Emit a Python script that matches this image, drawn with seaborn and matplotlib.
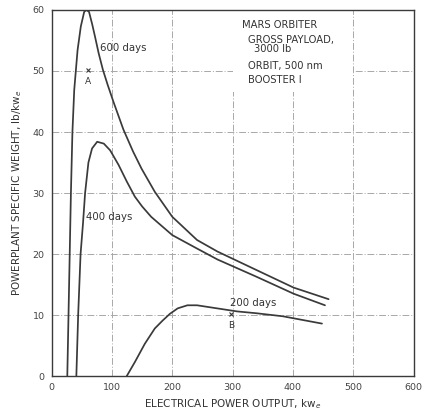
import matplotlib
matplotlib.use("Agg")
import matplotlib.pyplot as plt
from matplotlib.patches import Rectangle
import seaborn as sns
import pandas as pd

# curves (kw_e, lb/kw_e)
x_600 = [26, 28, 30, 32, 34.5, 37.5, 43, 48.4, 54, 57.6, 62, 67.4, 72, 78, 85, 93,
         103, 119, 135, 149, 171, 200, 241, 275, 339, 401, 459]
y_600 = [0, 10, 20, 30, 40, 46.9, 53.4, 57.3, 59.7, 60, 59.7, 57.6, 55.6, 52.9, 50.2,
         47.7, 44.8, 40.4, 36.8, 34.0, 30.2, 26.1, 22.3, 20.4, 17.4, 14.5, 12.6]

x_400 = [41, 44, 48, 52, 55.5, 61, 67, 75.5, 86.5, 97, 111, 124.5, 138, 150, 165, 200,
         241, 275, 339, 401, 453]
y_400 = [0, 10, 20, 25, 30, 35, 37.3, 38.4, 38.1, 37, 34.6, 31.9, 29.4, 27.8, 26.1, 23.1,
         20.9, 19.1, 16.3, 13.5, 11.6]

x_200 = [124.5, 138, 154.5, 171, 184, 196, 209, 225, 241, 274, 307, 339, 383, 448]
y_200 = [0, 2.3, 5.3, 7.8, 9.1, 10.2, 11.1, 11.6, 11.6, 11.1, 10.6, 10.3, 9.8, 8.6]

x_ticks = [0, 100, 200, 300, 400, 500, 600]
y_ticks = [0, 10, 20, 30, 40, 50, 60]

info_lines = ["MARS ORBITER", "GROSS PAYLOAD,", "3000 lb", "ORBIT, 500 nm", "BOOSTER I"]

df = pd.concat([
    pd.DataFrame({"power": x_600, "weight": y_600, "mission": "600 days"}),
    pd.DataFrame({"power": x_400, "weight": y_400, "mission": "400 days"}),
    pd.DataFrame({"power": x_200, "weight": y_200, "mission": "200 days"}),
])

sns.set_style("white")
plt.rcParams["font.family"] = ["DejaVu Sans"]

ink = "#3a3a3a"
txt = "#333333"
fig, ax = plt.subplots(figsize=(4.23, 4.16), dpi=100)
fig.subplots_adjust(left=0.122, right=0.978, top=0.976, bottom=0.096)

sns.lineplot(data=df, x="power", y="weight", units="mission", estimator=None,
             color=ink, linewidth=1.25, ax=ax, legend=False,
             solid_joinstyle="round", solid_capstyle="round")

ax.set_xlim(0, 600)
ax.set_ylim(0, 60)
ax.set_xticks(x_ticks)
ax.set_yticks(y_ticks)
ax.tick_params(length=0, pad=5, labelsize=6.8, colors="#444")
ax.grid(True, color="#a8a8a8", linestyle=(0, (7, 2, 1, 2)), linewidth=0.7)
for s in ax.spines.values():
    s.set_color(ink)
    s.set_linewidth(1.0)

ax.set_xlabel("ELECTRICAL POWER OUTPUT, kw$_e$", fontsize=7.5, color=txt, labelpad=4)
ax.set_ylabel("POWERPLANT SPECIFIC WEIGHT, lb/kw$_e$", fontsize=7.5, color=txt, labelpad=6)

# curve labels and design points
ax.text(81, 53.8, "600 days", fontsize=7.3, color=txt, va="center")
ax.text(57, 26, "400 days", fontsize=7.3, color=txt, va="center")
ax.text(295, 11.9, "200 days", fontsize=7.3, color=txt, va="center")
ax.plot([61, 297], [50.2, 10.1], "x", color=ink, markersize=3, markeredgewidth=0.8)
ax.text(61, 48.3, "A", fontsize=6.5, color=txt, ha="center", va="center")
ax.text(297, 8.3, "B", fontsize=6.5, color=txt, ha="center", va="center")

# white block in the upper right hiding the grid, with the mission notes
ax.add_patch(Rectangle((301, 46.5), 199, 13.3, facecolor="white", edgecolor="none",
                       zorder=1.5))
info_pos = [(315, 57.5), (326, 55.1), (336, 53.6), (326, 50.8), (326, 48.5)]
for line, (tx, ty) in zip(info_lines, info_pos):
    ax.text(tx, ty, line, fontsize=7.2, color=txt, va="center", zorder=3)

fig.savefig("out.png", dpi=100)
